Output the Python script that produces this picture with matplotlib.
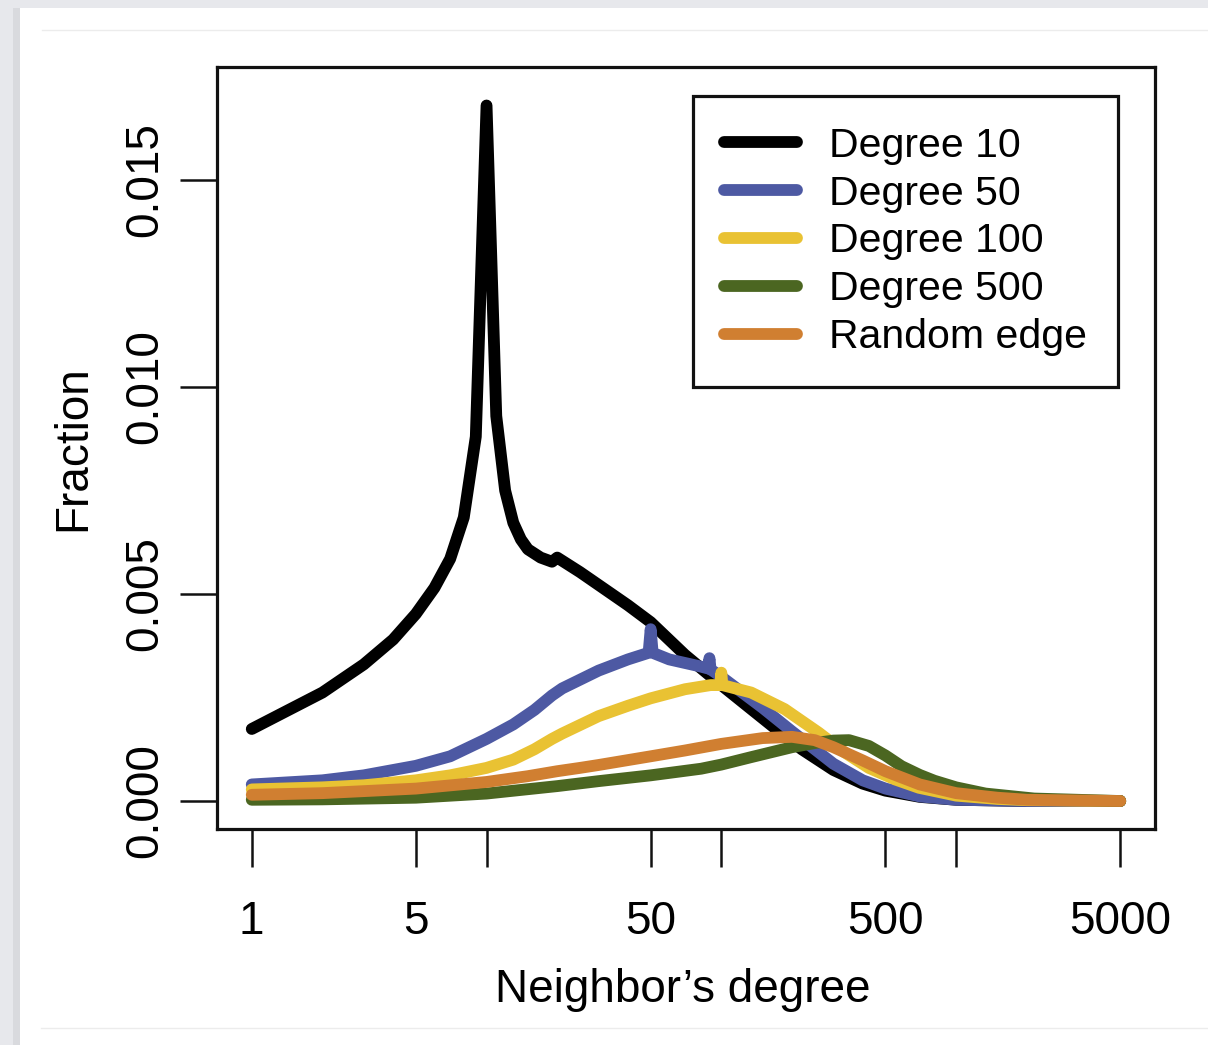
import matplotlib

matplotlib.use("Agg")
import matplotlib.pyplot as plt
import numpy as np
from matplotlib.lines import Line2D
from matplotlib.patches import Rectangle

plt.rcParams["font.family"] = ["Liberation Sans", "DejaVu Sans"]

# --- data ------------------------------------------------------------------
deg10_x = [1, 2, 3, 4, 5, 6, 7, 8, 9, 10, 11, 12, 13, 14, 15, 17, 19, 20,
           25, 30, 40, 50, 70, 100, 130, 170, 220, 300, 400, 500, 700, 1000,
           2000, 5000]
deg10_y = [0.00174, 0.00262, 0.00330, 0.00390, 0.00452, 0.00515, 0.00585,
           0.00685, 0.00880, 0.01680, 0.00930, 0.00750, 0.00672, 0.00632,
           0.00608, 0.00588, 0.00578, 0.00588, 0.00553, 0.00522, 0.00473,
           0.00432, 0.00353, 0.00280, 0.00228, 0.00175, 0.00125, 0.00075,
           0.00042, 0.00025, 0.00010, 0.00003, 0.0, 0.0]

deg50_x = [1, 2, 3, 5, 7, 10, 13, 16, 19, 21, 30, 40, 49, 50, 51, 60, 80,
           88, 89, 90, 100, 150, 200, 300, 400, 500, 700, 1000, 2000, 5000]
deg50_y = [0.00040, 0.00050, 0.00062, 0.00085, 0.00108, 0.00150, 0.00185,
           0.00220, 0.00255, 0.00272, 0.00315, 0.00342, 0.00358, 0.00415,
           0.00358, 0.00342, 0.00326, 0.00320, 0.00345, 0.00318, 0.00300,
           0.00225, 0.00168, 0.00090, 0.00050, 0.00030, 0.00011, 0.00003,
           0.0, 0.0]

deg100_x = [1, 2, 3, 5, 7, 10, 13, 16, 19, 21, 30, 40, 50, 70, 90, 99, 100,
            101, 134, 186, 260, 330, 425, 550, 694, 1000, 1500, 2000, 5000]
deg100_y = [0.00028, 0.00033, 0.00038, 0.00050, 0.00062, 0.00080, 0.00100,
            0.00125, 0.00150, 0.00163, 0.00205, 0.00230, 0.00248, 0.00270,
            0.00280, 0.00280, 0.00310, 0.00280, 0.00262, 0.00222, 0.00165,
            0.00120, 0.00080, 0.00052, 0.00032, 0.00013, 0.00005, 0.00002,
            0.0]

deg500_x = [1, 2, 5, 10, 20, 30, 50, 82, 100, 134, 200, 250, 300, 350, 425,
            500, 586, 700, 808, 1000, 1335, 2150, 5000]
deg500_y = [0.00003, 0.00004, 0.00008, 0.00018, 0.00036, 0.00048, 0.00062,
            0.00078, 0.00088, 0.00106, 0.00130, 0.00140, 0.00146, 0.00147,
            0.00133, 0.00110, 0.00084, 0.00063, 0.00049, 0.00033, 0.00018,
            0.00006, 0.0]

rand_x = [1, 2, 5, 10, 15, 20, 25, 30, 50, 70, 100, 150, 200, 250, 300, 400,
          500, 700, 1000, 1500, 2000, 5000]
rand_y = [0.00015, 0.00019, 0.00030, 0.00046, 0.00060, 0.00072, 0.00080,
          0.00087, 0.00108, 0.00122, 0.00138, 0.00152, 0.00155, 0.00147,
          0.00130, 0.00098, 0.00072, 0.00040, 0.00019, 0.00008, 0.00003, 0.0]

series = [
    ("Degree 10", deg10_x, deg10_y, "#000000"),
    ("Degree 50", deg50_x, deg50_y, "#4d59a3"),
    ("Degree 100", deg100_x, deg100_y, "#e9c233"),
    ("Degree 500", deg500_x, deg500_y, "#4b6621"),
    ("Random edge", rand_x, rand_y, "#d07f31"),
]

xticks = [1, 5, 10, 50, 100, 500, 1000, 5000]
xticklabels = ["1", "5", "", "50", "", "500", "", "5000"]
yticks = [0.0, 0.005, 0.010, 0.015]
yticklabels = ["0.000", "0.005", "0.010", "0.015"]

# --- figure, with the slide-like frame of the screenshot -------------------
W, H = 1208, 1045
fig = plt.figure(figsize=(W / 100, H / 100), dpi=100, facecolor="#e7e8ec")


def px_rect(x0, y0, x1, y1, **kw):
    fig.add_artist(Rectangle((x0 / W, 1 - y1 / H), (x1 - x0) / W, (y1 - y0) / H,
                             transform=fig.transFigure, lw=0, zorder=-5, **kw))


px_rect(13, 8, 20, H, facecolor="#d9dade")
px_rect(20, 8, W, H, facecolor="white")
for yy, x0 in [(30, 42), (1028, 41)]:
    fig.add_artist(Line2D([x0 / W, 1], [1 - yy / H] * 2, transform=fig.transFigure,
                          color="#ececec", lw=1, zorder=-4))

ax = fig.add_axes([217 / W, 1 - 829 / H, 938 / W, 762 / H])
for lab, xs, ys, col in series:
    ax.plot(xs, ys, color=col, lw=8.5, label=lab,
            solid_capstyle="round", solid_joinstyle="round")

ax.set_xscale("log")
ax.set_xlim(10 ** -0.148, 10 ** 3.847)
ax.set_ylim(-0.000676, 0.01773)
ax.set_xticks(xticks)
ax.set_xticklabels(xticklabels)
ax.minorticks_off()
ax.set_yticks(yticks)
ax.set_yticklabels(yticklabels, rotation=90, va="center")
ax.tick_params(length=27, width=1.8, labelsize=33, color="#111111")
ax.tick_params(axis="x", pad=24)
ax.tick_params(axis="y", pad=9)
for s in ax.spines.values():
    s.set_linewidth(2.3)
    s.set_color("#111111")

fig.text(683 / W, 1 - 1002 / H, "Neighbor\u2019s degree", fontsize=33,
         ha="center", va="baseline")
fig.text(95 / W, 1 - 448 / H, "Fraction", fontsize=33, rotation=90,
         ha="right", va="center")

leg = ax.legend(loc="upper right", bbox_to_anchor=(1118 / W, 1 - 96 / H),
                bbox_transform=fig.transFigure, borderaxespad=0,
                fontsize=29.5, handlelength=1.8, handletextpad=0.78,
                labelspacing=0.24, borderpad=0.75, fancybox=False,
                framealpha=1, edgecolor="#111111")
leg.get_frame().set_linewidth(2.3)

fig.savefig("out.png", dpi=100, facecolor=fig.get_facecolor())
